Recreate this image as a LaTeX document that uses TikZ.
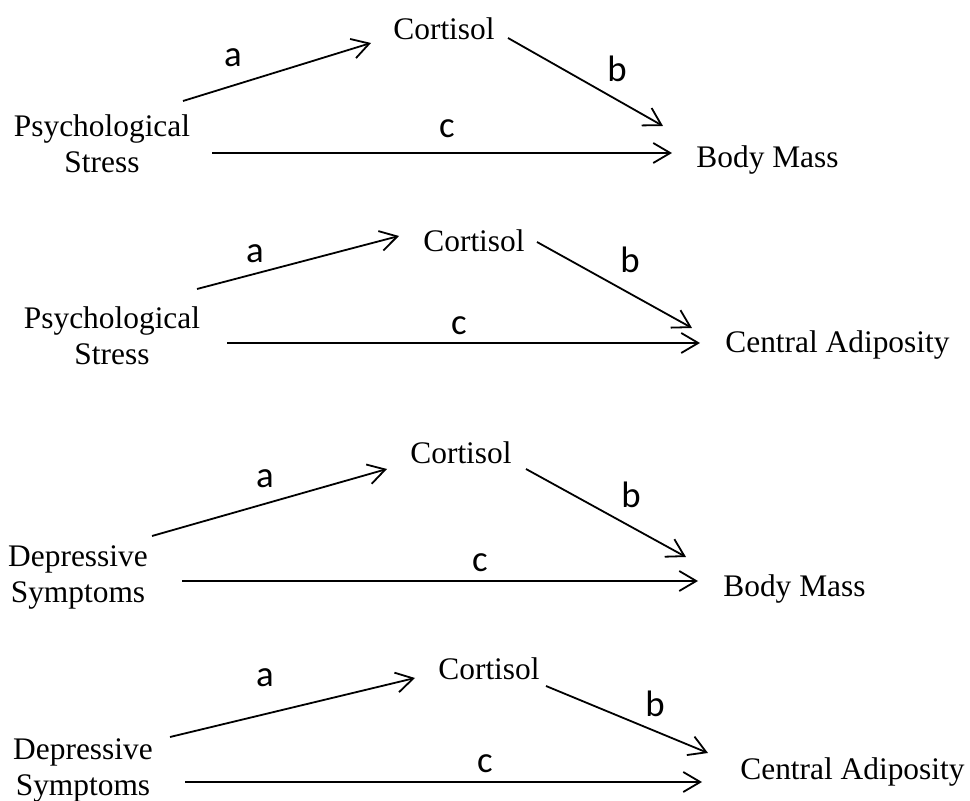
\documentclass[tikz,border=0pt]{standalone}
\usepackage{fontspec}
\setmainfont{Liberation Serif}
\newfontfamily\labfont{Carlito}
\usetikzlibrary{arrows.meta}
\begin{document}
\begin{tikzpicture}[x=0.5pt,y=-0.5pt,
        var/.style={inner sep=0pt,anchor=base west,font=\fontsize{15.7}{18}\selectfont},
        src/.style={inner sep=0pt,align=center,font=\fontsize{15.7}{18}\selectfont},
        lab/.style={inner sep=0pt,anchor=base,font=\labfont\fontsize{18.4}{20}\selectfont},
        arr/.style={line width=0.9pt,-{Straight Barb[length=8.5pt,width=10pt,line width=0.9pt]}}]
    \useasboundingbox (0,0) rectangle (970,801);
    % Stress -> Body Mass
    \node[src] (ps1) at (102,144) {Psychological\\Stress};
    \node[var] (co1) at (393,40) {Cortisol};
    \node[var] (bm1) at (696,168) {Body Mass};
    \coordinate (a1s) at (183,101); \coordinate (a1e) at (371,43);
    \coordinate (b1s) at (508,38);  \coordinate (b1e) at (663,126);
    \coordinate (c1s) at (212,153); \coordinate (c1e) at (672,153);
    \draw[arr] (a1s) -- (a1e);
    \draw[arr] (b1s) -- (b1e);
    \draw[arr] (c1s) -- (c1e);
    \node[lab] (la1) at (233,67) {a};
    \node[lab] (lb1) at (617,82) {b};
    \node[lab] (lc1) at (447,138) {c};
    % Stress -> Central Adiposity
    \node[src] (ps2) at (112,336) {Psychological\\Stress};
    \node[var] (co2) at (423,252) {Cortisol};
    \node[var] (ca2) at (725,353) {Central Adiposity};
    \coordinate (a2s) at (197,289); \coordinate (a2e) at (399,236);
    \coordinate (b2s) at (537,242); \coordinate (b2e) at (692,328);
    \coordinate (c2s) at (227,343); \coordinate (c2e) at (700,343);
    \draw[arr] (a2s) -- (a2e);
    \draw[arr] (b2s) -- (b2e);
    \draw[arr] (c2s) -- (c2e);
    \node[lab] (la2) at (255,263) {a};
    \node[lab] (lb2) at (630,273) {b};
    \node[lab] (lc2) at (459,335) {c};
    % Depressive Symptoms -> Body Mass
    \node[src] (ds3) at (78,577) {Depressive\\Symptoms};
    \node[var] (co3) at (410,464) {Cortisol};
    \node[var] (bm3) at (723,597) {Body Mass};
    \coordinate (a3s) at (152,536); \coordinate (a3e) at (387,469);
    \coordinate (b3s) at (526,469); \coordinate (b3e) at (686,557);
    \coordinate (c3s) at (182,581); \coordinate (c3e) at (698,581);
    \draw[arr] (a3s) -- (a3e);
    \draw[arr] (b3s) -- (b3e);
    \draw[arr] (c3s) -- (c3e);
    \node[lab] (la3) at (265,488) {a};
    \node[lab] (lb3) at (631,508) {b};
    \node[lab] (lc3) at (480,572) {c};
    % Depressive Symptoms -> Central Adiposity
    \node[src] (ds4) at (83,770) {Depressive\\Symptoms};
    \node[var] (co4) at (438,680) {Cortisol};
    \node[var] (ca4) at (740,780) {Central Adiposity};
    \coordinate (a4s) at (170,737); \coordinate (a4e) at (415,678);
    \coordinate (b4s) at (546,686); \coordinate (b4e) at (708,753);
    \coordinate (c4s) at (185,782); \coordinate (c4e) at (702,782);
    \draw[arr] (a4s) -- (a4e);
    \draw[arr] (b4s) -- (b4e);
    \draw[arr] (c4s) -- (c4e);
    \node[lab] (la4) at (265,687) {a};
    \node[lab] (lb4) at (655,717) {b};
    \node[lab] (lc4) at (485,773) {c};
\end{tikzpicture}
\end{document}
